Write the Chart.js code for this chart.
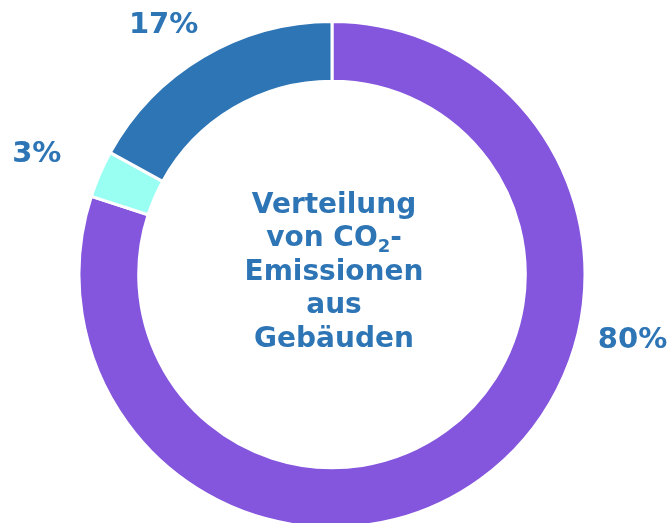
<!DOCTYPE html>
<html>
<head>
<meta charset="utf-8">
<script src="https://cdn.jsdelivr.net/npm/chart.js@4"></script>
<style>
  html, body { margin: 0; padding: 0; background: #fff; overflow: hidden; }
  #wrap { position: relative; width: 670px; height: 531px; }
</style>
</head>
<body>
<div id="wrap"><canvas id="co2Chart"></canvas></div>
<script>
// Verteilung von CO2-Emissionen aus Gebäuden
const categories = ['Kategorie A', 'Kategorie B', 'Kategorie C'];
const shares = [80, 3, 17];
const sliceColors = ['#8455DD', '#99FFF3', '#2E75B6'];
const centerLines = [
    [{ t: 'Verteilung' }],
    [{ t: 'von CO' }, { t: '2', sub: true }, { t: '-' }],
    [{ t: 'Emissionen' }],
    [{ t: 'aus' }],
    [{ t: 'Gebäuden' }]
];

const textBlue = '#2E75B6';
const fontFamily = '"DejaVu Sans", sans-serif';

// percent labels outside the ring (angle in degrees clockwise from top)
const outsideLabels = {
    id: 'outsideLabels',
    afterDatasetsDraw(chart, args, opts) {
        const meta = chart.getDatasetMeta(0);
        const { ctx } = chart;
        ctx.save();
        ctx.fillStyle = textBlue;
        ctx.font = 'bold 29px ' + fontFamily;
        ctx.textAlign = 'center';
        ctx.textBaseline = 'alphabetic';
        meta.data.forEach((arc, i) => {
            const txt = shares[i] + '%';
            const asc = ctx.measureText(txt).actualBoundingBoxAscent;
            const rad = (opts.angles[i] - 90) * Math.PI / 180;
            const r = arc.outerRadius + opts.offsets[i];
            ctx.fillText(txt, arc.x + Math.cos(rad) * r, arc.y + Math.sin(rad) * r + asc / 2);
        });
        ctx.restore();
    }
};

const centerText = {
    id: 'centerText',
    afterDatasetsDraw(chart) {
        const arc = chart.getDatasetMeta(0).data[0];
        const { ctx } = chart;
        const lineH = 33.5;
        const mainFont = 'bold 28px ' + fontFamily;
        const subFont = 'bold 18px ' + fontFamily;
        ctx.save();
        ctx.fillStyle = textBlue;
        ctx.textBaseline = 'middle';
        ctx.textAlign = 'left';
        const y0 = arc.y - lineH * (centerLines.length - 1) / 2 - 2;
        centerLines.forEach((parts, li) => {
            let w = 0;
            parts.forEach(p => {
                ctx.font = p.sub ? subFont : mainFont;
                w += ctx.measureText(p.t).width;
            });
            let x = arc.x + 2 - w / 2;
            const y = y0 + li * lineH;
            parts.forEach(p => {
                ctx.font = p.sub ? subFont : mainFont;
                ctx.fillText(p.t, x, p.sub ? y + 8 : y);
                x += ctx.measureText(p.t).width;
            });
        });
        ctx.restore();
    }
};

new Chart(document.getElementById('co2Chart'), {
    type: 'doughnut',
    data: {
        labels: categories,
        datasets: [{
            data: shares,
            backgroundColor: sliceColors,
            borderColor: '#ffffff',
            borderWidth: 3
        }]
    },
    options: {
        responsive: true,
        maintainAspectRatio: false,
        animation: false,
        cutout: '76.4%',
        layout: { padding: { top: 20, bottom: 2, left: 0, right: 6 } },
        plugins: {
            legend: { display: false },
            tooltip: { enabled: false },
            outsideLabels: { angles: [101.75, 292.7, 326.3], offsets: [54, 67, 50.5] }
        }
    },
    plugins: [outsideLabels, centerText]
});
</script>
</body>
</html>
